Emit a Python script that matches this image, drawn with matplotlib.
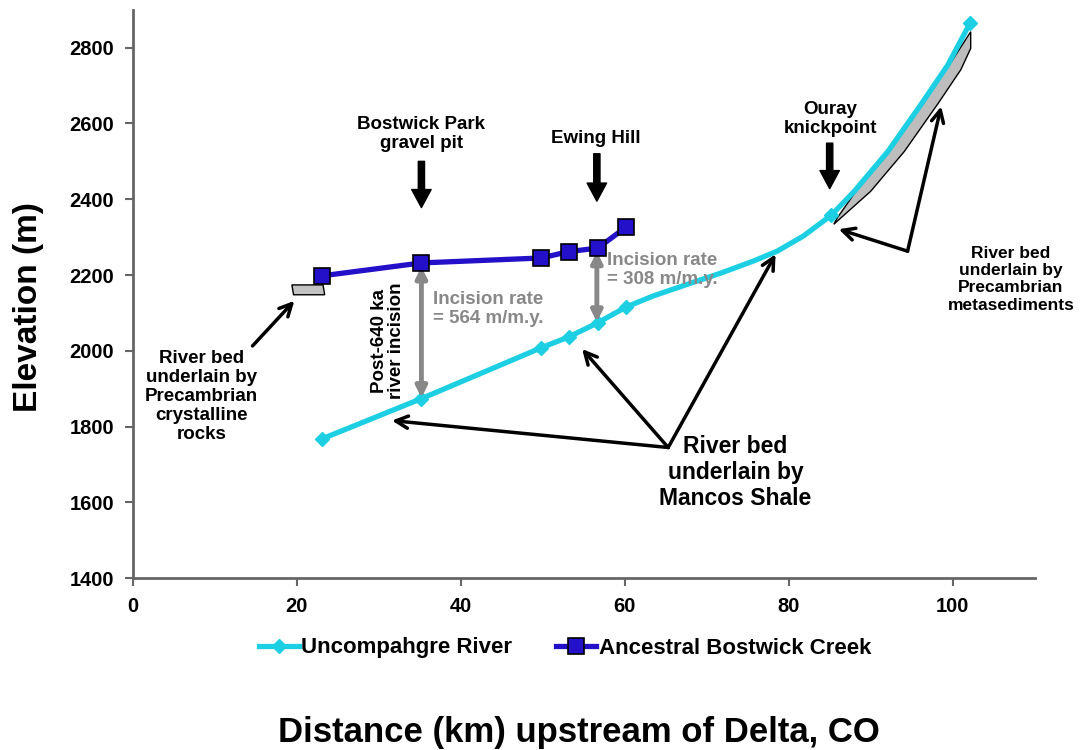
import matplotlib
matplotlib.use("Agg")
import matplotlib.pyplot as plt

plt.rcParams['font.family'] = ['Liberation Sans', 'DejaVu Sans']
plt.rcParams['font.weight'] = 'bold'

# Uncompahgre River profile (markers at measured sites, extra points trace the curve)
river_km = [23.1, 35.2, 49.8, 53.2, 56.7, 60.2, 63.5, 67.7, 71.7, 75.7, 78.6, 81.8, 83.9,
            85.2, 88.0, 92.1, 96.1, 99.4, 102.1]
river_elev = [1768, 1874, 2008, 2037, 2074, 2116, 2145, 2176, 2205, 2237, 2263, 2303, 2337,
              2358, 2421, 2526, 2649, 2754, 2864]
river_marked = [0, 1, 2, 3, 4, 5, 13, 18]

# Ancestral Bostwick Creek
creek_km = [23.1, 35.2, 49.8, 53.2, 56.7, 60.2]
creek_elev = [2198, 2232, 2245, 2262, 2271, 2327]

# bedrock patches
cryst_x = [19.4, 23.2, 23.4, 19.6]
cryst_y = [2174, 2174, 2148, 2148]
meta_top_x = [85.9, 88.0, 92.1, 96.1, 99.4, 102.2]
meta_top_y = [2350, 2415, 2520, 2643, 2748, 2842]
meta_bot_x = [102.2, 101.0, 98.2, 94.1, 90.0, 85.5]
meta_bot_y = [2798, 2742, 2652, 2526, 2421, 2334]

cyan = '#1ccfe3'
blue = '#2410c8'
gray = '#888888'

fig = plt.figure(figsize=(10.8, 7.5), dpi=100)
ax = fig.add_axes([0.123, 0.229, 0.835, 0.758])

ax.fill(cryst_x, cryst_y, facecolor='#c2c2c2', edgecolor='black', lw=1, zorder=2)
ax.fill(meta_top_x + meta_bot_x, meta_top_y + meta_bot_y, facecolor='#bdbdbd',
        edgecolor='black', lw=1, zorder=2)

ax.plot(river_km, river_elev, color=cyan, lw=3.8, marker='D', markersize=7,
        markevery=river_marked, label='Uncompahgre River', zorder=3)
ax.plot(creek_km, creek_elev, color=blue, lw=3.8, marker='s', markersize=11,
        markeredgecolor='black', markeredgewidth=1.2, label='Ancestral Bostwick Creek', zorder=4)

ax.set_xlim(0, 110)
ax.set_ylim(1400, 2900)
ax.set_xticks(range(0, 101, 20))
ax.set_yticks(range(1400, 2801, 200))
for s in ['top', 'right']:
    ax.spines[s].set_visible(False)
for s in ['left', 'bottom']:
    ax.spines[s].set_color('#666666')
    ax.spines[s].set_linewidth(2)
ax.tick_params(direction='out', length=5.5, width=1.5, color='#666666', labelsize=14.5, pad=8)
for lab in ax.get_xticklabels() + ax.get_yticklabels():
    lab.set_fontweight('bold')

fig.text(0.026, 0.59, 'Elevation (m)', rotation=90, fontsize=24, fontweight='bold',
         ha='center', va='center')
fig.text(0.536, 0.023, 'Distance (km) upstream of Delta, CO', fontsize=25,
         fontweight='bold', ha='center', va='center')

fs = 13.5

# site labels with fat arrows
fat = dict(facecolor='black', edgecolor='black', width=4.5, headwidth=14, headlength=13, shrink=0)
ax.annotate('', xy=(35.2, 2378), xytext=(35.2, 2500), arrowprops=fat)
ax.annotate('', xy=(56.6, 2395), xytext=(56.6, 2520), arrowprops=fat)
ax.annotate('', xy=(85.0, 2428), xytext=(85.0, 2548), arrowprops=fat)
ax.text(35.2, 2571, 'Bostwick Park\ngravel pit', ha='center', va='center', fontsize=fs,
        fontweight='bold', linespacing=1.15)
ax.text(56.5, 2560, 'Ewing Hill', ha='center', va='center', fontsize=fs, fontweight='bold')
ax.text(85.1, 2612, 'Ouray\nknickpoint', ha='center', va='center', fontsize=fs,
        fontweight='bold', linespacing=1.15)

# incision arrows
dbl = dict(arrowstyle='<|-|>', color=gray, lw=3.5, mutation_scale=16, shrinkA=0, shrinkB=0)
ax.annotate('', xy=(35.2, 1876), xytext=(35.2, 2222), arrowprops=dbl)
ax.annotate('', xy=(56.6, 2076), xytext=(56.6, 2262), arrowprops=dbl)
ax.text(43.3, 2110, 'Incision rate\n= 564 m/m.y.', ha='center', va='center', fontsize=fs,
        fontweight='bold', color=gray, linespacing=1.2)
ax.text(64.6, 2213, 'Incision rate\n= 308 m/m.y.', ha='center', va='center', fontsize=fs,
        fontweight='bold', color=gray, linespacing=1.2)
ax.text(31.1, 2026, 'Post-640 ka\nriver incision', ha='center', va='center', rotation=90,
        fontsize=fs, fontweight='bold', linespacing=1.0)

# bedrock notes
thin = dict(arrowstyle='->', color='black', lw=2.5, mutation_scale=22, shrinkA=0, shrinkB=0)
ax.text(8.4, 1879, 'River bed\nunderlain by\nPrecambrian\ncrystalline\nrocks', ha='center',
        va='center', fontsize=fs, fontweight='bold', linespacing=1.15)
ax.annotate('', xy=(19.7, 2132), xytext=(14.6, 2013), arrowprops=thin)

ax.text(73.5, 1679, 'River bed\nunderlain by\nMancos Shale', ha='center', va='center',
        fontsize=16.5, fontweight='bold', linespacing=1.15)
for tip in [(31.6, 1816), (54.8, 2005), (78.4, 2255)]:
    ax.annotate('', xy=tip, xytext=(65.3, 1745), arrowprops=thin)

ax.text(107.1, 2189, 'River bed\nunderlain by\nPrecambrian\nmetasediments', ha='center',
        va='center', fontsize=12.5, fontweight='bold', linespacing=1.2, clip_on=False)
for tip in [(86.1, 2321), (98.6, 2645)]:
    ax.annotate('', xy=tip, xytext=(94.5, 2263), arrowprops=thin)

fig.legend(loc='center', bbox_to_anchor=(0.523, 0.136), ncol=2, frameon=False,
           prop={'weight': 'bold', 'size': 16}, handlelength=1.8, handletextpad=0.1,
           columnspacing=2.0)

fig.savefig('out.png', dpi=100)
